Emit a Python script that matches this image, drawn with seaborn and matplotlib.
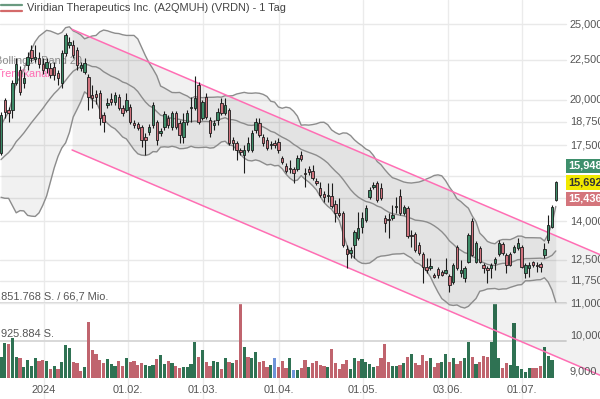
import matplotlib
matplotlib.use("Agg")
import numpy as np
import pandas as pd
import matplotlib.pyplot as plt
import matplotlib.transforms as mtransforms
from matplotlib.lines import Line2D
import seaborn as sns

sns.set_theme(style="white")
plt.rcParams["font.family"] = ["Liberation Sans", "DejaVu Sans"]

# ---------------- data ----------------
title = "Viridian Therapeutics Inc. (A2QMUH) (VRDN) - 1 Tag"

# closes before the first visible candle (seed the 20-day Bollinger band)
prehistory_close = [15.6, 15.9, 16.3, 15.8, 16.1, 16.6, 17.2, 16.9, 17.4, 17.0,
                    16.4, 16.2, 15.7, 16.0, 16.8, 17.5, 18.1, 17.6, 17.3]

opens = [17.11, 19.99, 19.41, 19.41, 21.01, 21.84, 21.01, 22.16, 23.16, 22.56,
         22.62, 22.23, 21.97, 21.97, 22.03, 21.65, 21.01, 22.96, 23.50, 23.50,
         23.16, 21.97, 21.71, 21.39, 20.29, 20.35, 20.41, 19.13, 19.70, 20.05,
         19.88, 20.17, 19.53, 19.41, 19.58, 18.68, 18.63, 18.46, 17.93, 18.20,
         18.57, 18.74, 18.14, 18.46, 18.96, 18.46, 19.24, 18.68, 17.93, 18.74,
         19.53, 19.53, 20.89, 18.96, 20.17, 18.85, 18.57, 18.85, 19.82, 19.24,
         19.41, 17.77, 17.61, 17.26, 17.01, 17.26, 17.26, 18.30, 18.68, 17.93,
         17.77, 17.51, 17.61, 17.67, 16.86, 16.46, 16.37, 16.32, 16.32, 17.01,
         16.13, 16.32, 16.22, 15.75, 15.43, 15.16, 15.07, 15.07, 14.73, 14.34,
         14.34, 12.90, 12.75, 13.05, 13.32, 13.76, 14.05, 15.03, 15.48, 15.66,
         15.43, 14.13, 14.09, 14.13, 14.59, 15.07, 14.34, 14.55, 13.44, 13.48,
         13.05, 12.71, 12.24, 12.20, 11.95, 12.17, 12.06, 12.02, 11.91, 11.70,
         12.97, 12.02, 11.84, 12.42, 14.01, 12.42, 12.93, 12.31, 12.20, 12.20,
         12.38, 12.71, 13.09, 12.67, 12.71, 12.79, 12.93, 12.97, 12.02, 12.20,
         12.42, 12.31, 12.35, 12.67, 13.24, 13.76, 14.90]

closes = [19.13, 19.30, 19.24, 21.01, 22.23, 20.47, 21.33, 22.69, 22.62, 22.69,
          22.23, 21.84, 22.36, 21.52, 21.52, 21.33, 22.96, 24.20, 23.71, 22.82,
          22.16, 22.16, 22.29, 20.17, 20.11, 20.17, 18.96, 18.74, 19.82, 19.88,
          20.29, 19.53, 19.24, 19.99, 18.74, 18.57, 18.41, 17.77, 17.77, 18.46,
          19.70, 17.77, 18.25, 19.18, 18.57, 19.24, 18.46, 18.04, 18.74, 19.24,
          19.58, 20.11, 18.74, 19.88, 19.02, 18.14, 18.68, 19.30, 19.24, 19.70,
          17.61, 17.61, 17.26, 17.16, 17.26, 17.61, 18.14, 18.74, 18.04, 17.61,
          17.36, 17.56, 17.51, 17.26, 16.66, 16.22, 16.32, 16.13, 16.86, 16.81,
          16.08, 16.17, 15.89, 15.66, 15.12, 15.03, 15.12, 14.64, 14.34, 14.25,
          13.05, 12.71, 12.86, 13.56, 13.72, 14.13, 14.55, 15.34, 15.57, 14.90,
          14.99, 13.93, 14.05, 14.25, 14.64, 14.34, 14.59, 13.40, 13.40, 12.86,
          12.75, 12.24, 12.13, 12.27, 11.88, 11.95, 11.95, 12.13, 11.60, 12.31,
          12.20, 12.13, 12.20, 13.44, 12.67, 13.13, 12.42, 12.20, 12.13, 12.31,
          12.53, 13.13, 12.75, 12.31, 12.31, 12.97, 13.13, 12.24, 12.31, 12.31,
          12.31, 12.27, 12.24, 12.90, 13.84, 14.59, 15.69]

highs = [19.30, 20.11, 19.58, 21.20, 22.62, 22.10, 21.71, 23.02, 23.50, 23.50,
         23.02, 22.62, 22.62, 22.29, 22.36, 21.84, 23.16, 24.35, 24.06, 23.85,
         23.37, 22.36, 22.62, 21.58, 20.89, 20.59, 20.59, 19.30, 20.11, 20.41,
         20.47, 20.35, 19.70, 20.41, 19.76, 18.85, 18.74, 18.57, 18.14, 18.63,
         19.88, 18.85, 18.41, 19.36, 19.13, 19.36, 19.36, 18.85, 19.24, 19.41,
         20.17, 21.46, 21.07, 19.99, 20.41, 19.02, 18.85, 19.53, 20.11, 20.11,
         19.53, 17.93, 17.72, 17.36, 17.51, 17.93, 18.30, 18.96, 18.96, 18.09,
         17.93, 17.72, 17.77, 17.88, 16.96, 16.61, 16.76, 16.41, 17.01, 17.21,
         16.37, 16.46, 16.51, 15.89, 15.71, 15.30, 15.66, 15.66, 14.90, 14.99,
         14.42, 13.05, 12.97, 13.64, 14.38, 14.38, 14.68, 15.48, 15.71, 15.75,
         15.66, 14.25, 14.34, 14.68, 15.03, 15.39, 14.68, 14.64, 13.64, 13.56,
         13.16, 12.79, 12.56, 12.56, 12.02, 12.24, 12.13, 12.56, 11.99, 12.38,
         13.05, 12.49, 12.27, 13.52, 14.13, 13.20, 13.01, 12.38, 12.27, 12.38,
         12.60, 13.24, 13.16, 12.75, 12.79, 13.05, 13.32, 13.05, 12.38, 12.42,
         12.46, 12.42, 12.42, 13.13, 14.25, 14.68, 15.75]

lows = [17.01, 18.96, 18.74, 18.96, 20.89, 20.29, 20.71, 21.84, 22.36, 22.36,
        21.97, 21.58, 21.65, 21.33, 21.20, 20.89, 20.71, 22.76, 23.30, 22.62,
        21.84, 21.78, 21.58, 19.41, 19.53, 19.76, 18.57, 18.20, 19.53, 19.70,
        19.70, 19.41, 19.07, 19.30, 18.63, 18.41, 18.30, 17.41, 17.01, 18.04,
        18.41, 17.51, 17.98, 18.30, 18.41, 18.30, 18.35, 17.61, 17.61, 18.57,
        18.74, 19.41, 18.63, 18.85, 18.90, 17.93, 18.30, 18.57, 19.13, 19.13,
        17.51, 17.26, 16.76, 17.01, 16.13, 17.16, 17.16, 18.14, 17.93, 17.46,
        17.26, 17.31, 17.36, 17.11, 16.56, 16.13, 16.13, 15.66, 16.22, 16.71,
        15.48, 16.03, 15.80, 15.57, 15.03, 14.81, 14.81, 14.55, 13.97, 14.17,
        12.97, 12.20, 12.56, 12.56, 13.24, 13.52, 13.97, 14.94, 15.39, 14.81,
        14.90, 13.56, 13.32, 14.05, 14.34, 14.25, 14.25, 13.32, 12.97, 12.79,
        12.67, 11.67, 12.02, 12.13, 11.84, 11.84, 11.91, 11.99, 11.36, 11.63,
        12.13, 11.88, 11.70, 12.38, 12.64, 12.38, 12.38, 12.02, 11.67, 11.84,
        12.13, 12.64, 12.67, 12.02, 12.27, 12.75, 12.86, 12.20, 11.84, 11.88,
        12.24, 12.06, 12.06, 12.56, 13.13, 13.72, 14.86]

# volume in thousand shares, and bar colour class (G up, R down, B unchanged)
volume = [533, 864, 839, 988, 518, 494, 272, 444, 296, 494,
          420, 444, 420, 222, 296, 222, 395, 815, 741, 395,
          370, 173, 272, 1383, 691, 593, 444, 370, 469, 346,
          296, 420, 296, 494, 395, 420, 321, 370, 321, 296,
          321, 469, 568, 346, 420, 370, 296, 247, 272, 272,
          346, 889, 518, 691, 395, 296, 420, 395, 222, 494,
          395, 370, 444, 1852, 765, 518, 494, 642, 395, 420,
          272, 321, 494, 272, 420, 247, 494, 198, 198,
          247, 444, 272, 370, 420, 321, 296, 272, 716, 370,
          222, 346, 444, 222, 494, 420, 469, 395, 346, 272,
          296, 494, 839, 395, 296, 296, 321, 370, 518, 593,
          370, 321, 568, 420, 494, 272, 370, 395, 593, 395,
          494, 346, 420, 494, 889, 518, 346, 395, 543, 518,
          889, 1827, 494, 247, 370, 321, 1358, 296, 222, 148,
          247, 247, 247, 296, 765, 543, 444]
volume_dir = ("GGRGGRGGGG" "RRGRGRGGGR" "RRGRRRRRGG" "GRRGRRRRGG" "GRGGRGRRGG"
              "GGRGRRGGRG" "RGRRGRGGRR" "RGBRRRGBG"
              "RRGRRRRGRR" "RRRGGRGGGG" "RRRRGGRGRG" "RRRRGRRGGR"
              "GRRGGRGRRR" "GGGRRGGGGG" "GRRRGGG")
volume_max_label = "1.851.768 S. / 66,7 Mio."
volume_half_label = "925.884 S."
volume_max = 1851.768

# trend channel anchors (candle index, price)
channel_x = [18.7, 157.6]
channel_upper = [24.61, 12.69]
channel_lower = [17.26, 8.90]

# axis labels
date_pos = [11.3, 33.4, 53.2, 73.2, 95.3, 117.6, 137.1]
date_labels = ["2024", "01.02.", "01.03.", "01.04.", "01.05.", "03.06.", "01.07."]
grid_ticks = [25.0, 22.5, 20.0, 18.75, 17.5, 16.0, 15.0, 14.0, 12.5, 11.75, 11.0]
price_ticks = [25.0, 22.5, 20.0, 18.75, 17.5, 14.0, 12.5, 11.75, 11.0, 10.0, 9.0]
price_labels = ["25,000", "22,500", "20,000", "18,750", "17,500",
                "14,000", "12,500", "11,750", "11,000", "10,000", "9,000"]
quote_values = [15.948, 15.692, 15.436]
quote_labels = ["15,948", "15,692", "15,436"]

# ---------------- figure ----------------
W, H = 600, 399
fig = plt.figure(figsize=(W / 100, H / 100), dpi=100)
fig.patch.set_facecolor("white")
ax = fig.add_axes([0, 0, 1, 1])
ax2 = ax.twinx()
ax.set_zorder(2)
ax2.set_zorder(1)
ax.patch.set_visible(False)

step = 3.8
x_lo = -1 / step
x_hi = x_lo + W / step
ax.set_xlim(x_lo, x_hi)
ax.set_yscale("log")
ax.set_ylim(8.297, 26.83)
ax2.set_ylim(-511.2, 9341.4)

FS = 7.9
txtc = "#555555"
green_c, red_c = "#3d8c68", "#d0737e"
vol_pal = {"G": "#2f7253", "R": "#c0646e", "B": "#6f93d9"}
band_c = "#8c8c8c"
pink = "#ff6eb4"

n = len(closes)
x = np.arange(n)

# vertical date grid (bottom layer)
for p in date_pos:
    ax2.axvline(p, color="#ebebeb", lw=1.0, zorder=0)

# volume
vx = np.arange(len(volume))
ax2.bar(vx, volume, width=0.8, color=[vol_pal[d] for d in volume_dir], linewidth=0, zorder=2)
gx = 566 / W
ax2.axhline(volume_max, xmax=gx, color="#d6d6d6", lw=1.3, zorder=1)
ax2.axhline(volume_max / 2, xmax=gx, color="#d6d6d6", lw=1.3, zorder=1)
blend2 = mtransforms.blended_transform_factory(ax2.transAxes, ax2.transData)
ax2.annotate(volume_max_label, xy=(-8.0 / W, volume_max), xycoords=blend2,
             xytext=(0, 1.2), textcoords="offset points", ha="left", va="bottom",
             fontsize=FS, color=txtc, annotation_clip=False)
ax2.annotate(volume_half_label, xy=(1 / W, volume_max / 2), xycoords=blend2,
             xytext=(0, 1.2), textcoords="offset points", ha="left", va="bottom",
             fontsize=FS, color=txtc, annotation_clip=False)

# price grid
for v in grid_ticks:
    ax.axhline(v, xmax=gx, color="#e9e9e9", lw=1.0, zorder=0)

# Bollinger band (20, 2)
all_close = pd.Series(prehistory_close + closes,
                      index=np.arange(-len(prehistory_close), n), dtype=float)
mid = all_close.rolling(20).mean()
sd = all_close.rolling(20).std(ddof=0)
upper = (mid + 2 * sd).dropna()
lower = (mid - 2 * sd).dropna()
mid = mid.dropna()
bx = mid.index.values
ax.fill_between(bx, lower.values, upper.values, color="black", alpha=0.055, lw=0, zorder=1)
band_df = pd.DataFrame({
    "x": np.concatenate([bx, bx, bx]),
    "price": np.concatenate([upper.values, mid.values, lower.values]),
    "band": ["upper"] * len(bx) + ["mid"] * len(bx) + ["lower"] * len(bx),
})
sns.lineplot(data=band_df, x="x", y="price", units="band", estimator=None, sort=False,
             color=band_c, linewidth=1.0, ax=ax, legend=False, zorder=3)

# trend channel
ax.fill_between(channel_x, channel_lower, channel_upper, color="black", alpha=0.055, lw=0, zorder=1)
ax.plot(channel_x, channel_upper, color=pink, lw=1.1, zorder=4)
ax.plot(channel_x, channel_lower, color=pink, lw=1.1, zorder=4)

# candles
o = np.array(opens); c = np.array(closes)
up = c >= o
body_lo = np.minimum(o, c)
body_h = np.maximum(np.abs(c - o), c * 0.004)
ax.vlines(x, lows, highs, color="#1c1c1c", lw=0.8, zorder=5)
ax.bar(x, body_h, bottom=body_lo, width=0.68, color=np.where(up, green_c, red_c),
       edgecolor="#1c1c1c", linewidth=0.6, zorder=6)

# indicator captions
ax.text(-5 / W, 1 - 60.7 / H, "Bollinger Band 20", transform=ax.transAxes, ha="left",
        va="center", fontsize=FS, color="#8a8a8a", zorder=2, clip_on=False)
ax.text(-4 / W, 1 - 74 / H, "Trendkanal", transform=ax.transAxes, ha="left",
        va="center", fontsize=FS, color=pink, zorder=2, clip_on=False)

# price axis labels (right, inside)
blend = mtransforms.blended_transform_factory(ax.transAxes, ax.transData)
for v, lab in zip(price_ticks, price_labels):
    ax.text(570 / W, v, lab, transform=blend, ha="left", va="center",
            fontsize=FS, color=txtc, zorder=7, clip_on=False)

# quote boxes
box_cols = ["#3e8f6c", "#f1e900", "#d4757c"]
box_txt = ["white", "#333333", "white"]
offs = [11.9, 0.0, -11.9]
for v, lab, fc, tc, off in zip(quote_values, quote_labels, box_cols, box_txt, offs):
    ax.annotate(lab, xy=(568.5 / W, quote_values[1]), xycoords=blend,
                xytext=(0, off), textcoords="offset points", ha="left", va="center",
                fontsize=FS, fontweight="bold", color=tc, zorder=9,
                bbox=dict(boxstyle="square,pad=0.2", fc=fc, ec="none"),
                annotation_clip=False)

# date labels
blendx = mtransforms.blended_transform_factory(ax.transData, ax.transAxes)
for p, lab in zip(date_pos, date_labels):
    ax.text(p, 1 - 390 / H, lab, transform=blendx, ha="center", va="center",
            fontsize=FS, color=txtc, zorder=7)

# title with legend glyph
fig.add_artist(Line2D([1 / W, 22 / W], [1 - 5 / H, 1 - 5 / H], color="#6a9a80", lw=1.6,
                      transform=fig.transFigure))
fig.add_artist(Line2D([1 / W, 22 / W], [1 - 10.5 / H, 1 - 10.5 / H], color="#d46a6a", lw=1.6,
                      transform=fig.transFigure))
fig.text(27 / W, 1 - 8 / H, title, ha="left", va="center", fontsize=FS, color="#444444")

ax.set_axis_off()
ax2.set_axis_off()
fig.savefig("out.png", dpi=100, facecolor="white")
